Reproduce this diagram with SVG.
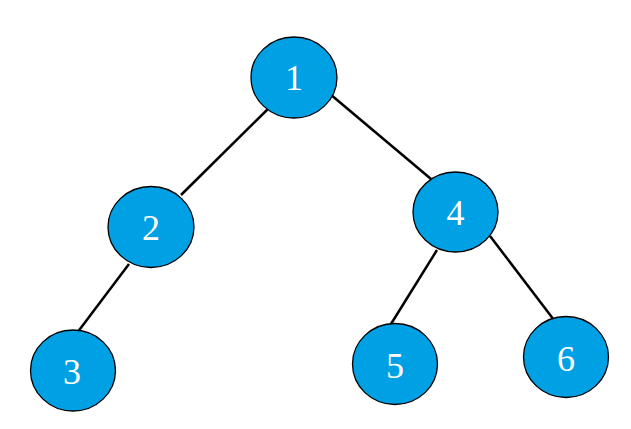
<svg xmlns="http://www.w3.org/2000/svg" width="631" height="429" viewBox="0 0 631 429">
<style>
.n ellipse{fill:#00A0E4;stroke:#000;stroke-width:1.3}
.n text{fill:#fff;font-family:"Liberation Serif",serif;font-size:36px;text-anchor:middle}
.e line{stroke:#000;stroke-width:2.5}
</style>
<rect width="631" height="429" fill="#fff"/>
<g id="edges" class="e">
<line x1="270" y1="107" x2="181" y2="195"/>
<line x1="330" y1="94" x2="431" y2="179"/>
<line x1="129" y1="264" x2="77" y2="333"/>
<line x1="437" y1="250" x2="391" y2="324"/>
<line x1="490" y1="236" x2="554" y2="320"/>
</g>
<g id="node1" class="n"><ellipse cx="294" cy="77.5" rx="43" ry="40.5"/><text x="294" y="90">1</text></g>
<g id="node2" class="n"><ellipse cx="151" cy="227" rx="43" ry="40.5"/><text x="151" y="240">2</text></g>
<g id="node4" class="n"><ellipse cx="455.5" cy="212" rx="42.5" ry="40"/><text x="455.5" y="225">4</text></g>
<g id="node3" class="n"><ellipse cx="73" cy="370.5" rx="42.5" ry="40.5"/><text x="72" y="384">3</text></g>
<g id="node5" class="n"><ellipse cx="395" cy="364" rx="42.5" ry="40.5"/><text x="395" y="378">5</text></g>
<g id="node6" class="n"><ellipse cx="566" cy="357" rx="42.5" ry="40.5"/><text x="566" y="371">6</text></g>
</svg>
